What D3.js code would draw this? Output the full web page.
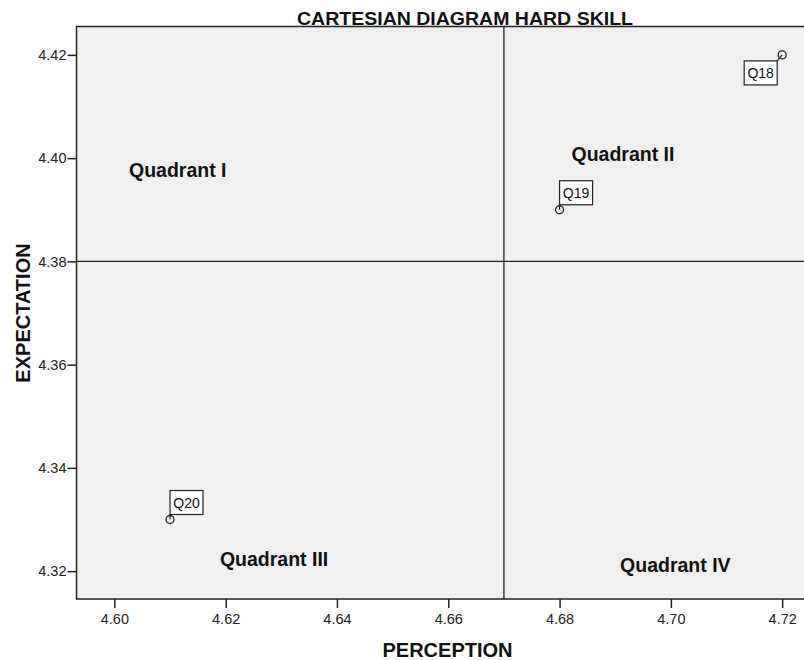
<!DOCTYPE html>
<html><head><meta charset="utf-8">
<script src="https://cdn.jsdelivr.net/npm/d3@7"></script>
<style>body{margin:0;background:#fff;}svg{display:block;font-family:"Liberation Sans",Arial,sans-serif;}</style>
</head><body>
<script>
const items = ["Q18","Q19","Q20"];
const perception = [4.72, 4.68, 4.61];
const expectation = [4.42, 4.39, 4.33];
const xTicks = [4.60,4.62,4.64,4.66,4.68,4.70,4.72];
const yTicks = [4.32,4.34,4.36,4.38,4.40,4.42];
const quadrants = ["Quadrant I","Quadrant II","Quadrant III","Quadrant IV"];
const meanPerception = 4.67, meanExpectation = 4.38;

const W=804,H=660;
const L=76.5,R=805,T=26.5,B=599;
const svg=d3.select("body").append("svg").attr("width",W).attr("height",H);
const x=d3.scaleLinear().domain([4.5932,4.7241]).range([L,R]);
const y=d3.scaleLinear().domain([4.3146,4.4255]).range([B,T]);

svg.append("rect").attr("x",L).attr("y",T).attr("width",R-L).attr("height",B-T)
  .attr("fill","#f0f0f0").attr("stroke","#222").attr("stroke-width",1.5);

svg.append("line").attr("x1",x(meanPerception)).attr("x2",x(meanPerception)).attr("y1",T).attr("y2",B).attr("stroke","#222").attr("stroke-width",1.3);
svg.append("line").attr("x1",L).attr("x2",R).attr("y1",y(meanExpectation)).attr("y2",y(meanExpectation)).attr("stroke","#222").attr("stroke-width",1.3);

const xa=svg.append("g").attr("transform",`translate(0,${B})`)
  .call(d3.axisBottom(x).tickValues(xTicks).tickFormat(d3.format(".2f")).tickSizeOuter(0).tickSize(9).tickPadding(6));
const ya=svg.append("g").attr("transform",`translate(${L},0)`)
  .call(d3.axisLeft(y).tickValues(yTicks).tickFormat(d3.format(".2f")).tickSizeOuter(0).tickSize(9).tickPadding(1));
[xa,ya].forEach(a=>{a.select(".domain").remove();
  a.attr("font-size",14.5).attr("font-family","Liberation Sans, Arial, sans-serif");
  a.selectAll("line").attr("stroke","#222").attr("stroke-width",1.5);
  a.selectAll("text").attr("fill","#222");});

const qPos=[[4.6114,4.3963],[4.6914,4.3994],[4.6287,4.3209],[4.7008,4.3199]];
svg.selectAll(".q").data(quadrants).enter().append("text")
  .attr("x",(d,i)=>x(qPos[i][0])).attr("y",(d,i)=>y(qPos[i][1]))
  .attr("text-anchor","middle").attr("font-weight","bold").attr("font-size",19.5).attr("fill","#111").text(d=>d);

const boxOff=[[-38,6],[0,-29],[0,-29]];
const bw=33,bh=24;
items.forEach((name,i)=>{
  const px=x(perception[i]),py=y(expectation[i]);
  const bx=px+boxOff[i][0],by=py+boxOff[i][1];
  const cx = boxOff[i][0]<0 ? bx+bw : bx;
  const cy = boxOff[i][1]<0 ? by+bh : by;
  svg.append("line").attr("x1",px).attr("y1",py).attr("x2",cx).attr("y2",cy).attr("stroke","#222").attr("stroke-width",1.2);
  svg.append("rect").attr("x",bx).attr("y",by).attr("width",bw).attr("height",bh).attr("fill","#fff").attr("stroke","#222").attr("stroke-width",1.2);
  svg.append("text").attr("x",bx+bw/2).attr("y",by+bh/2+5).attr("text-anchor","middle").attr("font-size",14).attr("fill","#111").text(name);
  svg.append("circle").attr("cx",px).attr("cy",py).attr("r",4).attr("fill","none").attr("stroke","#222").attr("stroke-width",1.3);
});

svg.append("text").attr("x",465).attr("y",25).attr("text-anchor","middle").attr("font-weight","bold").attr("font-size",18)
  .attr("textLength",336).attr("lengthAdjust","spacingAndGlyphs").attr("fill","#111").text("CARTESIAN DIAGRAM HARD SKILL");
svg.append("text").attr("x",447.5).attr("y",657).attr("text-anchor","middle").attr("font-weight","bold").attr("font-size",20).attr("fill","#111").text("PERCEPTION");
svg.append("text").attr("transform","translate(30,313) rotate(-90)").attr("text-anchor","middle").attr("font-weight","bold").attr("font-size",20).attr("fill","#111").text("EXPECTATION");
</script>
</body></html>
